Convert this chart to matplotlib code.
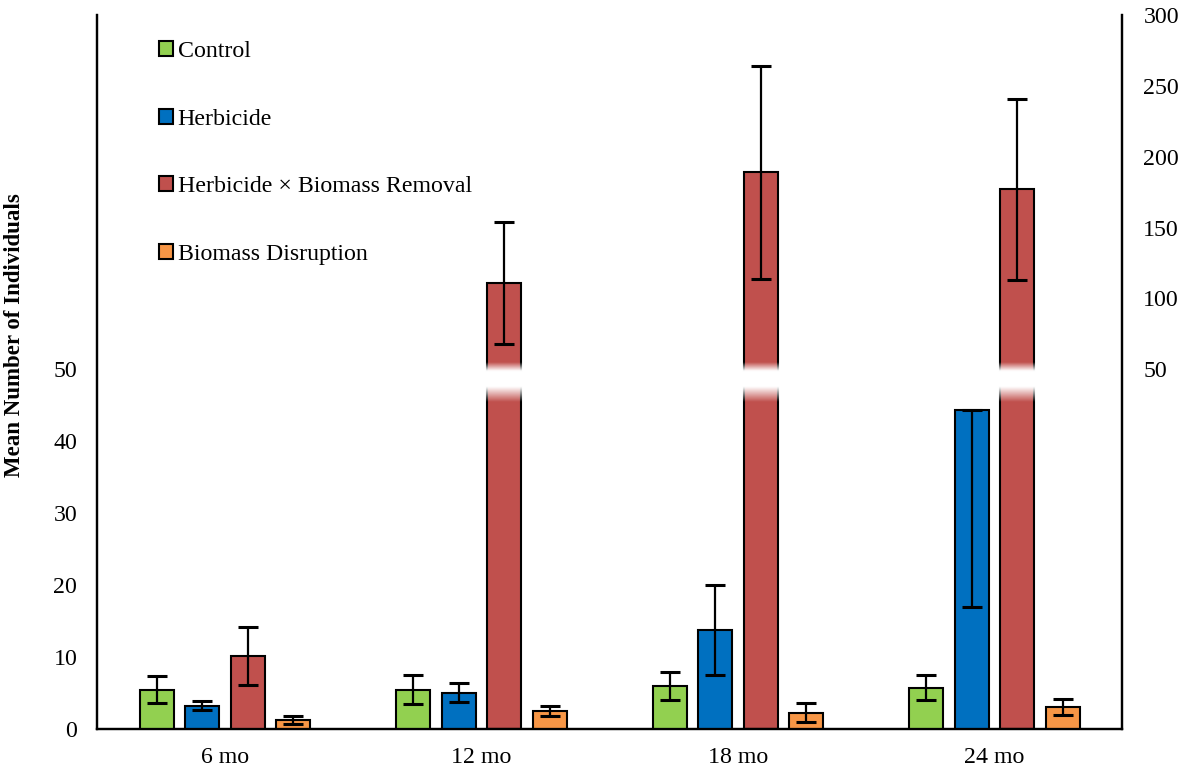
import numpy as np
import matplotlib.pyplot as plt
from matplotlib.patches import Patch

plt.rcParams['font.family'] = ['Liberation Serif', 'DejaVu Serif']

# Mean number of individuals per treatment and sampling time (+/- SE)
months = ['6 mo', '12 mo', '18 mo', '24 mo']
treatments = ['Control', 'Herbicide', 'Herbicide × Biomass Removal', 'Biomass Disruption']
colors = ['#92D050', '#0070C0', '#C0504D', '#F79646']

control = [5.5, 5.5, 6.0, 5.8]
control_se = [1.9, 2.05, 1.95, 1.8]

herbicide = [3.3, 5.1, 13.8, 44.3]
herbicide_se_lo = [0.65, 1.35, 6.2, 27.3]
herbicide_se_hi = [0.65, 1.35, 6.2, 0.0]

hxbr = [10.2, 111, 189, 177]
hxbr_se = [4.05, 43, 75, 64]
hxbr_on_right = [False, True, True, True]   # plotted against the right (broken) axis

disruption = [1.3, 2.6, 2.3, 3.1]
disruption_se = [0.6, 0.7, 1.35, 1.05]

# axis scales: left 0-50, right 50-300 sharing the "50" line
L_TOP = 99.2
R_TOP = 300
R_MIN = 50 - 50 * (R_TOP - 50) / (L_TOP - 50)

FS = 17.2

fig = plt.figure(figsize=(11.88, 7.72), dpi=100)
ax = fig.add_axes([96.7 / 1188, 42.7 / 772, (1122.5 - 96.7) / 1188, (729.3 - 15) / 772])
ax2 = ax.twinx()
ax.set_zorder(ax2.get_zorder() + 1)
ax.patch.set_visible(False)

x = np.arange(len(months))
step = 0.1774
width = 0.1326
offs = np.array([-1.5, -0.5, 0.5, 1.5]) * step

bar_kw = dict(width=width, edgecolor='black', linewidth=1.5)
err_kw = dict(fmt='none', ecolor='black', elinewidth=1.6, capsize=7, capthick=2.2)

ax.bar(x + offs[0], control, color=colors[0], **bar_kw)
ax.errorbar(x + offs[0], control, yerr=control_se, **err_kw)

ax.bar(x + offs[1], herbicide, color=colors[1], **bar_kw)
ax.errorbar(x + offs[1], herbicide, yerr=[herbicide_se_lo, herbicide_se_hi], **err_kw)

ax.bar(x + offs[3], disruption, color=colors[3], **bar_kw)
ax.errorbar(x + offs[3], disruption, yerr=disruption_se, **err_kw)

# Herbicide x Biomass Removal: small value on the left axis, large ones on the right axis
for i, (m, se, right) in enumerate(zip(hxbr, hxbr_se, hxbr_on_right)):
    xi = x[i] + offs[2]
    if right:
        ax2.bar(xi, m - R_MIN, bottom=R_MIN, color=colors[2], **bar_kw)
        ax2.errorbar(xi, m, yerr=se, **err_kw)
    else:
        ax.bar(xi, m, color=colors[2], **bar_kw)
        ax.errorbar(xi, m, yerr=se, **err_kw)

# white faded gap marking the axis break on the tall bars
b0, b1, b2, b3 = 45.5, 47.6, 49.8, 51.0
yy = np.linspace(b0, b3, 200)
alpha = np.minimum(np.clip((yy - b0) / (b1 - b0), 0, 1), np.clip((b3 - yy) / (b3 - b2), 0, 1))
band = np.ones((len(yy), 2, 4))
band[:, :, 3] = alpha[:, None]
pad = 0.014
for i, right in enumerate(hxbr_on_right):
    if right:
        xi = x[i] + offs[2]
        ax.imshow(band, extent=[xi - width / 2 - pad, xi + width / 2 + pad, b0, b3],
                  origin='lower', aspect='auto', interpolation='bilinear', zorder=5)

ax.set_xlim(-0.5, len(months) - 0.5)
ax.set_ylim(0, L_TOP)
ax2.set_ylim(R_MIN, R_TOP)

ax.set_yticks(np.arange(0, 51, 10))
ax2.set_yticks(np.arange(50, 301, 50))
ax.set_xticks(x)
ax.set_xticklabels(months)

ax.tick_params(axis='y', length=0, pad=14, labelsize=FS)
ax.tick_params(axis='x', length=0, pad=13, labelsize=FS)
ax2.tick_params(axis='y', length=0, pad=15, labelsize=FS)

for a in (ax, ax2):
    a.spines['top'].set_visible(False)
    for s in ('left', 'right', 'bottom'):
        a.spines[s].set_linewidth(1.6)
        a.spines[s].set_color('black')

fig.text(15 / 1188, 1 - 335 / 772, 'Mean Number of Individuals', rotation=90,
         ha='center', va='center', fontsize=16.5, fontweight='bold')

handles = [Patch(facecolor=c, edgecolor='black', linewidth=1.5) for c in colors]
ax.legend(handles, treatments, loc='upper left', bbox_to_anchor=(159 / 1188, 1 - 41 / 772),
          bbox_transform=fig.transFigure, frameon=False, fontsize=FS,
          handlelength=0.58, handleheight=0.58, handletextpad=0.2,
          labelspacing=1.95, borderpad=0, borderaxespad=0)

fig.savefig('out.png', dpi=100)
